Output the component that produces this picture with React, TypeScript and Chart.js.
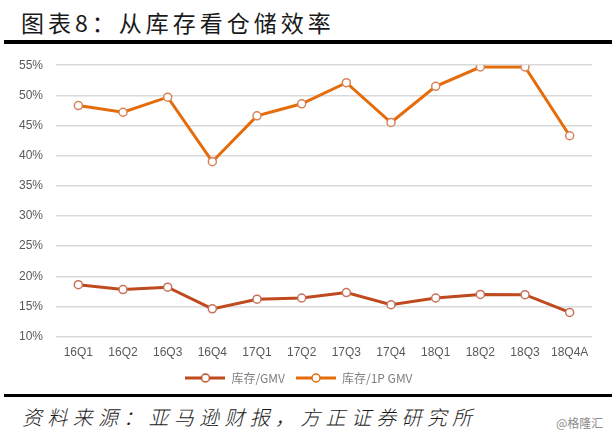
import React, { useEffect, useRef } from "react";
import { Chart, registerables } from "chart.js";

Chart.register(...registerables);

const categories = ["16Q1", "16Q2", "16Q3", "16Q4", "17Q1", "17Q2", "17Q3", "17Q4", "18Q1", "18Q2", "18Q3", "18Q4A"];
const inventoryGmv = [18.6, 17.8, 18.2, 14.6, 16.2, 16.4, 17.3, 15.3, 16.4, 17.0, 16.95, 14.0];
const inventory1pGmv = [48.3, 47.2, 49.7, 39.0, 46.6, 48.6, 52.1, 45.5, 51.5, 54.7, 54.7, 43.3];
const seriesNames = ["库存/GMV", "库存/1P GMV"];
const yTicksMin = 10;
const yTicksMax = 55;
const yStep = 5;

const COLOR_A = "#BE4A1E";
const COLOR_B = "#E46C0A";
const FONT = "'Liberation Sans Narrow', 'Liberation Sans', Arial, sans-serif";

function legendIcon(color: string): HTMLCanvasElement {
  const c = document.createElement("canvas");
  c.width = 40;
  c.height = 12;
  const ctx = c.getContext("2d")!;
  ctx.strokeStyle = color;
  ctx.lineWidth = 3;
  ctx.beginPath();
  ctx.moveTo(0, 6);
  ctx.lineTo(40, 6);
  ctx.stroke();
  ctx.beginPath();
  ctx.arc(20, 6, 4, 0, Math.PI * 2);
  ctx.fillStyle = "#fff";
  ctx.fill();
  ctx.lineWidth = 1.5;
  ctx.stroke();
  return c;
}

export default function App() {
  const ref = useRef<HTMLCanvasElement>(null);
  useEffect(() => {
    document.body.style.margin = "0";
    const colors = [COLOR_A, COLOR_B];
    const chart = new Chart(ref.current!, {
      type: "line",
      data: {
        labels: categories,
        datasets: [
          {
            label: seriesNames[0],
            data: inventoryGmv,
            borderColor: COLOR_A,
            backgroundColor: "#fff",
            borderWidth: 3,
            pointRadius: 4,
            pointBorderWidth: 1.5,
            pointBackgroundColor: "#fff",
            pointBorderColor: "#C8725A",
            tension: 0,
          },
          {
            label: seriesNames[1],
            data: inventory1pGmv,
            borderColor: COLOR_B,
            backgroundColor: "#fff",
            borderWidth: 3,
            pointRadius: 4,
            pointBorderWidth: 1.5,
            pointBackgroundColor: "#fff",
            pointBorderColor: "#D9825A",
            tension: 0,
          },
        ],
      },
      options: {
        animation: false,
        responsive: false,
        maintainAspectRatio: false,
        layout: { padding: { left: 6, right: 24, top: 2, bottom: 0 } },
        plugins: {
          tooltip: { enabled: false },
          legend: {
            position: "bottom",
            labels: {
              usePointStyle: true,
              pointStyleWidth: 40,
              padding: 11,
              color: "#7f7f7f",
              font: { family: "'Noto Sans CJK SC', " + FONT, size: 12 },
              generateLabels: (ch: any) =>
                ch.data.datasets.map((ds: any, i: number) => ({
                  text: ds.label,
                  pointStyle: legendIcon(colors[i]),
                  fillStyle: colors[i],
                  strokeStyle: colors[i],
                  lineWidth: 0,
                  hidden: false,
                  datasetIndex: i,
                  fontColor: "#7f7f7f",
                })),
            },
          },
        },
        scales: {
          x: {
            offset: true,
            grid: { display: false },
            border: { display: false },
            ticks: { color: "#595959", font: { family: FONT, size: 12 }, padding: 1 },
          },
          y: {
            min: yTicksMin,
            max: yTicksMax,
            grid: { color: "#d9d9d9", lineWidth: 1.5, drawTicks: false },
            border: { display: false },
            ticks: {
              stepSize: yStep,
              color: "#595959",
              font: { family: FONT, size: 12 },
              padding: 13,
              callback: (v: any) => v + "%",
            },
          },
        },
      },
    });
    return () => chart.destroy();
  }, []);

  return (
    <div style={{ position: "relative", width: 616, height: 439, background: "#fff", overflow: "hidden" }}>
      <div
        style={{
          position: "absolute",
          left: 21,
          top: 5,
          fontFamily: "'Noto Sans CJK SC', sans-serif",
          fontSize: 23,
          letterSpacing: 4,
          color: "#1a1a1a",
          whiteSpace: "nowrap",
          lineHeight: "34px",
        }}
      >
        图表8：从库存看仓储效率
      </div>
      <div style={{ position: "absolute", left: 4, top: 40, width: 608, height: 4, background: "#000" }} />
      <div style={{ position: "absolute", left: 0, top: 45 }}>
        <canvas ref={ref} width={616} height={349} style={{ display: "block", width: 616, height: 349 }} />
      </div>
      <div style={{ position: "absolute", left: 4, top: 394, width: 608, height: 3, background: "#000" }} />
      <div
        style={{
          position: "absolute",
          left: 22,
          top: 402,
          fontFamily: "'Noto Sans CJK SC', sans-serif",
          fontSize: 20,
          fontStyle: "italic",
          fontWeight: 300,
          letterSpacing: 5.3,
          color: "#1a1a1a",
          whiteSpace: "nowrap",
          lineHeight: "30px",
        }}
      >
        资料来源：亚马逊财报，方正证券研究所
      </div>
      <div
        style={{
          position: "absolute",
          left: 556,
          top: 414,
          fontFamily: "'Noto Sans CJK SC', sans-serif",
          fontSize: 12,
          color: "#8c8c8c",
          whiteSpace: "nowrap",
        }}
      >
        @格隆汇
      </div>
    </div>
  );
}
